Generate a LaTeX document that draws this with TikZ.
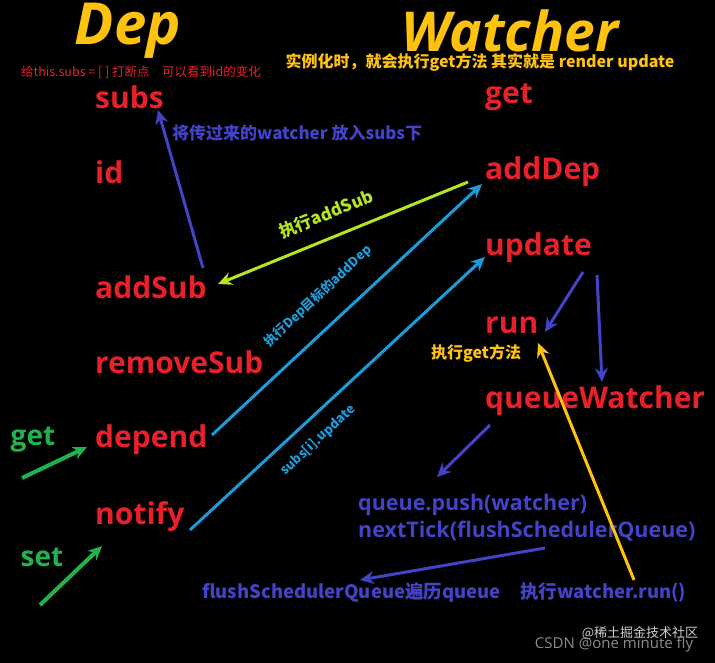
\documentclass[tikz,border=0pt]{standalone}
\usepackage{fontspec}
\setmainfont{Open Sans}
\newfontfamily\cjk{Noto Sans CJK SC}
\usetikzlibrary{arrows.meta}
\definecolor{rd}{HTML}{E8202A}
\definecolor{yl}{HTML}{FFC20E}
\definecolor{bl}{HTML}{4343C8}
\definecolor{cy}{HTML}{1C9BD8}
\definecolor{yg}{HTML}{B5E61D}
\definecolor{gr}{HTML}{22B14C}
\begin{document}
\begin{tikzpicture}[x=1pt,y=-1pt,
  lab/.style={font=\bfseries\fontsize{30}{32}\selectfont,text=rd,anchor=west,inner sep=0},
  small/.style={font=\cjk\bfseries\fontsize{10}{12}\selectfont,inner sep=0},
  code/.style={font=\bfseries\fontsize{21.5}{24}\selectfont,text=bl,anchor=west,inner sep=0},
  arr/.style={line width=3pt,-{Stealth[length=14pt,width=13pt]}}]
\fill[black] (0,0) rectangle (715,663);
\node[font=\bfseries\itshape\fontsize{58}{60}\selectfont,text=yl] (dep) at (128,31) {Dep};
\node[font=\bfseries\itshape\fontsize{55}{58}\selectfont,text=yl] (wat) at (510,31) {Watcher};
\node[small,text=rd,font=\cjk\fontsize{12.5}{14}\selectfont] (n1) at (141,72) {给this.subs = [ ] 打断点\quad 可以看到id的变化};
\node[small,text=yl,font=\cjk\bfseries\itshape\fontsize{16}{18}\selectfont] (n2) at (480,62) {实例化时，就会执行get方法 其实就是 render update};
\node[lab] (subs) at (95,97) {subs};
\node[lab] (id) at (95,172) {id};
\node[lab] (addSub) at (95,287) {addSub};
\node[lab] (removeSub) at (95,362) {removeSub};
\node[lab] (depend) at (95,440) {depend};
\node[lab] (notify) at (95,517) {notify};
\node[lab] (get) at (485,97) {get};
\node[lab] (addDep) at (485,172) {addDep};
\node[lab] (update) at (485,248) {update};
\node[lab] (run) at (485,325) {run};
\node[lab] (qw) at (485,401) {queueWatcher};
\node[code] (push) at (358,505) {queue.push(watcher)};
\node[code] (tick) at (358,531) {nextTick(flushSchedulerQueue)};
\node[code,font=\cjk\bfseries\fontsize{18.5}{20}\selectfont] (flush) at (202,592) {flushSchedulerQueue遍历queue};
\node[code,font=\cjk\bfseries\fontsize{18.5}{20}\selectfont] (wrun) at (520,592) {执行watcher.run()};
\node[font=\bfseries\fontsize{28}{30}\selectfont,text=gr] (g) at (33,440) {get};
\node[font=\bfseries\fontsize{28}{30}\selectfont,text=gr] (s) at (42,557) {set};
\node[small,text=bl,font=\cjk\bfseries\fontsize{17}{19}\selectfont,anchor=west] (t1) at (172,133) {将传过来的watcher 放入subs下};
\node[small,text=yg,font=\cjk\bfseries\fontsize{17}{19}\selectfont,rotate=22] (t2) at (326,214) {执行addSub};
\node[small,text=cy,font=\cjk\bfseries\fontsize{13}{15}\selectfont,rotate=43] (t3) at (318,296) {执行Dep目标的addDep};
\node[small,text=cy,font=\cjk\bfseries\fontsize{13}{15}\selectfont,rotate=43] (t4) at (318,440) {subs[i].update};
\node[small,text=yl,font=\cjk\bfseries\fontsize{16}{18}\selectfont] (t5) at (476,353) {执行get方法};
\node[text=gray!40,font=\cjk\fontsize{13}{15}\selectfont] (wm0) at (640,633) {@稀土掘金技术社区};
\node[text=gray!90,font=\fontsize{15}{17}\selectfont] (wm) at (614,645) {CSDN @one minute fly};
\coordinate (a1) at (203,268); \coordinate (a1e) at (158,110);
\coordinate (a2) at (468,182); \coordinate (a2e) at (218,284);
\coordinate (a3) at (212,435); \coordinate (a3e) at (482,184);
\coordinate (a4) at (190,530); \coordinate (a4e) at (485,257);
\coordinate (a5) at (583,272); \coordinate (a5e) at (545,332);
\coordinate (a6) at (597,275); \coordinate (a6e) at (602,382);
\coordinate (a7) at (634,580); \coordinate (a7e) at (538,343);
\coordinate (a8) at (490,425); \coordinate (a8e) at (437,477);
\coordinate (a9) at (545,548); \coordinate (a9e) at (360,580);
\coordinate (a10) at (22,478); \coordinate (a10e) at (87,447);
\coordinate (a11) at (40,605); \coordinate (a11e) at (102,546);
\draw[arr,bl] (a1) -- (a1e);
\draw[arr,yg] (a2) -- (a2e);
\draw[arr,cy] (a3) -- (a3e);
\draw[arr,cy] (a4) -- (a4e);
\draw[arr,bl] (a5) -- (a5e);
\draw[arr,bl] (a6) -- (a6e);
\draw[arr,yl] (a7) -- (a7e);
\draw[arr,bl] (a8) -- (a8e);
\draw[arr,bl] (a9) -- (a9e);
\draw[arr,gr,line width=4pt] (a10) -- (a10e);
\draw[arr,gr,line width=4pt] (a11) -- (a11e);
\end{tikzpicture}
\end{document}
